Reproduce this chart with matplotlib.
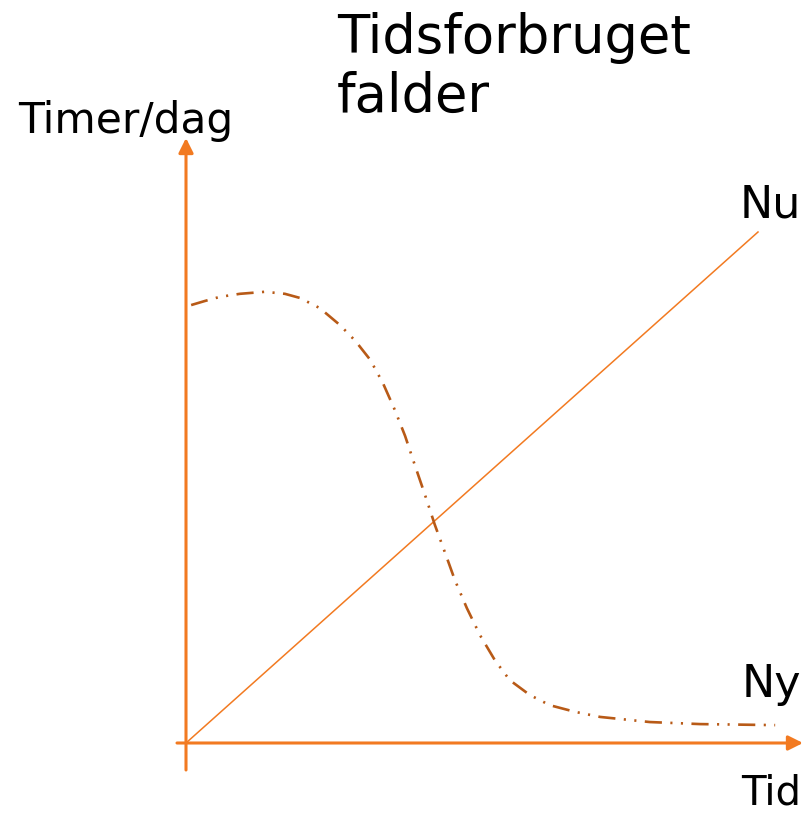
import numpy as np
import matplotlib.pyplot as plt

# Kurve "Ny": tidsforbrug (timer/dag) over tid
tid_ny = [0.09, 0.33, 0.59, 0.94, 1.38, 1.73, 1.99, 2.34, 2.69, 2.96, 3.22, 3.44, 3.65, 3.83,
          4.00, 4.18, 4.35, 4.53, 4.70, 4.91, 5.14, 5.40, 5.66, 6.01, 6.36, 6.80, 7.24, 8.11, 8.99, 10.30]
timer_ny = [8.57, 8.65, 8.73, 8.79, 8.83, 8.79, 8.71, 8.51, 8.18, 7.87, 7.50, 7.05, 6.52, 6.01,
            5.44, 4.85, 4.27, 3.72, 3.19, 2.64, 2.11, 1.62, 1.23, 0.94, 0.74, 0.61, 0.51, 0.41, 0.37, 0.35]

# Linje "Nu"
tid_nu = [0, 10]
timer_nu = [0, 10]

orange = '#F27A21'
brun = '#B85A17'

W, H = 809, 813
fig = plt.figure(figsize=(W / 100, H / 100), dpi=100)
ax = fig.add_axes([0, 0, 1, 1])
ax.set_xlim(-186 / 57.2, (W - 186) / 57.2)
ax.set_ylim(-(H - 743) / 51.1, 743 / 51.1)
ax.axis('off')

# akser med pile
ax.annotate('', xy=(0, (743 - 138) / 51.1), xytext=(0, -(770 - 743) / 51.1),
            arrowprops=dict(arrowstyle='-|>', color=orange, lw=2.2, mutation_scale=22, shrinkA=0, shrinkB=0))
ax.annotate('', xy=((803 - 186) / 57.2, 0), xytext=((177 - 186) / 57.2, 0),
            arrowprops=dict(arrowstyle='-|>', color=orange, lw=2.2, mutation_scale=22, shrinkA=0, shrinkB=0))

ax.plot(tid_nu, timer_nu, color=orange, lw=1.1)
ax.plot(tid_ny, timer_ny, color=brun, lw=1.9, linestyle=(0, (6.5, 3.2, 0.8, 3.2, 0.8, 3.2)))

def px(x, y):
    return x / W, 1 - y / H

fig.text(*px(337, 53), 'Tidsforbruget', fontsize=38, va='baseline', ha='left')
fig.text(*px(337, 112), 'falder', fontsize=38, va='baseline', ha='left')
fig.text(*px(18, 133), 'Timer/dag', fontsize=30.5, va='baseline', ha='left')
fig.text(*px(801, 217), 'Nu', fontsize=32, va='baseline', ha='right')
fig.text(*px(801, 697), 'Ny', fontsize=32, va='baseline', ha='right')
fig.text(*px(801, 804), 'Tid', fontsize=29, va='baseline', ha='right')

fig.savefig('out.png', dpi=100)
